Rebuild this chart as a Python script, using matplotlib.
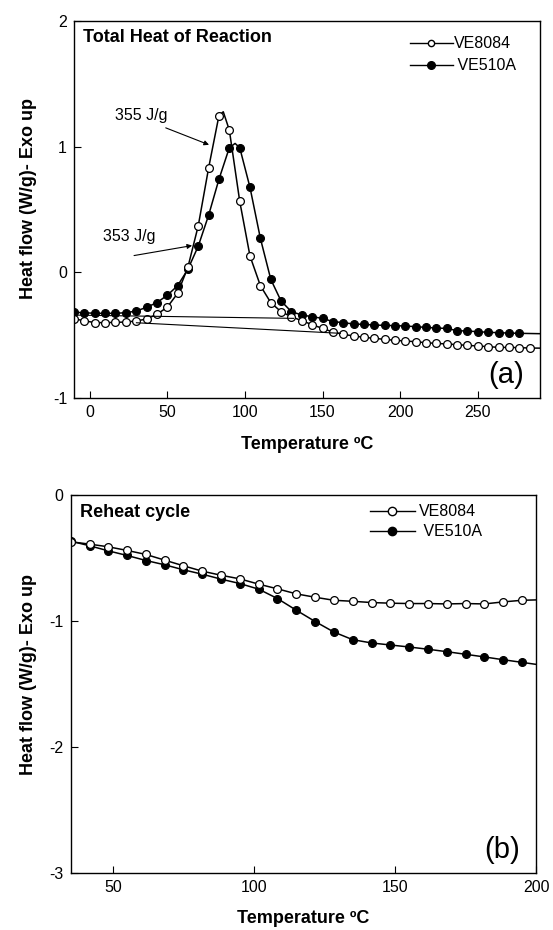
import matplotlib
matplotlib.use('Agg')
from matplotlib import pyplot as plt

plt.rcParams['font.family'] = ['Liberation Sans', 'DejaVu Sans']
plt.rcParams['axes.unicode_minus'] = False

# (a) total heat of reaction, marker points
temp_a = [-10, -3.3, 3.3, 10, 16.7, 23.3, 30, 36.7, 43.3, 50, 56.7, 63.3, 70,
          76.7, 83.3, 90, 96.7, 103.3, 110, 116.7, 123.3, 130, 136.7, 143.3,
          150, 156.7, 163.3, 170, 176.7, 183.3, 190, 196.7, 203.3, 210, 216.7,
          223.3, 230, 236.7, 243.3, 250, 256.7, 263.3, 270, 276.7, 283.3]
ve8084_a = [-0.37, -0.385, -0.40, -0.40, -0.398, -0.395, -0.387, -0.371, -0.334,
            -0.278, -0.167, 0.04, 0.371, 0.833, 1.246, 1.132, 0.565, 0.13,
            -0.106, -0.241, -0.313, -0.353, -0.385, -0.416, -0.446, -0.475,
            -0.493, -0.506, -0.517, -0.525, -0.533, -0.541, -0.546, -0.552,
            -0.56, -0.565, -0.57, -0.575, -0.581, -0.586, -0.591, -0.597,
            -0.597, -0.599, -0.602]
ve510a_a = [-0.318, -0.321, -0.326, -0.326, -0.326, -0.321, -0.308, -0.278,
            -0.241, -0.183, -0.106, 0.024, 0.209, 0.456, 0.74, 0.992, 0.992,
            0.676, 0.27, -0.056, -0.228, -0.313, -0.339, -0.353, -0.366,
            -0.392, -0.40, -0.411, -0.414, -0.419, -0.422, -0.424, -0.427,
            -0.432, -0.438, -0.443, -0.446, -0.464, -0.467, -0.472, -0.477,
            -0.48, -0.483, -0.485]
# peak tops of the traces (between markers)
peak_8084 = (86.1, 1.278)
peak_510a = (93.7, 1.026)
end_a = (290, -0.603, -0.488)
# integration baselines
base_510a = ([-10, 131.3], [-0.34, -0.366])
base_8084 = ([30.2, 161.5], [-0.401, -0.485])

# (b) reheat cycle
temp_b = [35, 41.7, 48.3, 55, 61.7, 68.3, 75, 81.7, 88.3, 95, 101.7, 108.3,
          115, 121.7, 128.3, 135, 141.7, 148.3, 155, 161.7, 168.3, 175, 181.7,
          188.3, 195]
ve8084_b = [-0.371, -0.39, -0.411, -0.44, -0.472, -0.517, -0.562, -0.605,
            -0.637, -0.666, -0.708, -0.745, -0.785, -0.812, -0.836, -0.844,
            -0.854, -0.859, -0.862, -0.862, -0.865, -0.862, -0.865, -0.849,
            -0.836]
ve510a_b = [-0.366, -0.403, -0.443, -0.48, -0.52, -0.554, -0.594, -0.629,
            -0.668, -0.703, -0.748, -0.822, -0.915, -1.005, -1.088, -1.149,
            -1.175, -1.191, -1.207, -1.225, -1.244, -1.265, -1.286, -1.308,
            -1.329]
end_b = (200, -0.833, -1.345)


def trace(x, y, peak, end):
    # line vertices: markers plus the peak top and the end at the axis edge
    pts = list(zip(x, y))
    if peak is not None:
        pts.append(peak)
    pts.append(end)
    pts.sort()
    return [p[0] for p in pts], [p[1] for p in pts]


def style_axes(ax):
    ax.tick_params(direction='in', length=5, width=0.8, labelsize=11.5, pad=5,
                   top=False, right=False)
    for s in ax.spines.values():
        s.set_linewidth(1.0)


def main():
    fig = plt.figure(figsize=(5.53, 9.3), dpi=100)
    ax1 = fig.add_axes([0.1338, 0.572, 0.8427, 0.4054])
    ax2 = fig.add_axes([0.1278, 0.0616, 0.8415, 0.4061])

    open_kw = dict(marker='o', mfc='white', mec='black', ms=5.6, mew=0.9,
                   ls='none')
    fill_kw = dict(marker='o', mfc='black', mec='black', ms=5.6, mew=0.9,
                   ls='none')

    # top: total heat of reaction
    lx, ly = trace(temp_a[:len(ve510a_a)], ve510a_a, peak_510a, (end_a[0], end_a[2]))
    ax1.plot(lx, ly, color='black', lw=1.1)
    ax1.plot(temp_a[:len(ve510a_a)], ve510a_a, **fill_kw)
    lx, ly = trace(temp_a, ve8084_a, peak_8084, (end_a[0], end_a[1]))
    ax1.plot(lx, ly, color='black', lw=1.1)
    ax1.plot(temp_a, ve8084_a, **open_kw)
    ax1.plot(*base_510a, color='black', lw=0.8)
    ax1.plot(*base_8084, color='black', lw=0.8)

    h1, = ax1.plot([], [], color='black', lw=1.0, marker='o', mfc='white',
                   mec='black', ms=4.5)
    h2, = ax1.plot([], [], color='black', lw=1.0, marker='o', mfc='black',
                   mec='black', ms=5.5)
    ax1.legend([h1, h2], ['VE8084', ' VE510A'], loc='upper left',
               bbox_to_anchor=(0.72, 0.96), frameon=False, fontsize=11.5,
               handlelength=2.7, handletextpad=0.05, labelspacing=0.45,
               borderpad=0, borderaxespad=0)

    ax1.annotate('', xy=(78.6, 1.007), xytext=(47.4, 1.158),
                 arrowprops=dict(arrowstyle='-|>', color='black', lw=0.8,
                                 mutation_scale=7))
    ax1.annotate('', xy=(67.8, 0.217), xytext=(26.9, 0.13),
                 arrowprops=dict(arrowstyle='-|>', color='black', lw=0.8,
                                 mutation_scale=7))
    ax1.text(16.1, 1.25, '355 J/g', fontsize=11.5, va='center', ha='left')
    ax1.text(8.6, 0.289, '353 J/g', fontsize=11.5, va='center', ha='left')
    ax1.text(0.02, 0.955, 'Total Heat of Reaction', transform=ax1.transAxes,
             fontsize=13, fontweight='bold', va='center', ha='left')
    ax1.text(0.965, 0.06, '(a)', transform=ax1.transAxes, fontsize=21,
             va='center', ha='right')

    ax1.set_xlim(-10, 290)
    ax1.set_ylim(-1, 2)
    ax1.set_xticks([0, 50, 100, 150, 200, 250])
    ax1.set_yticks([-1, 0, 1, 2])
    style_axes(ax1)
    ax1.set_xlabel('Temperature ºC', fontsize=13, fontweight='bold')
    ax1.set_ylabel('Heat flow (W/g)- Exo up', fontsize=13, fontweight='bold')
    ax1.xaxis.set_label_coords(0.5, -0.10)
    ax1.yaxis.set_label_coords(-0.08, 0.528)

    # bottom: reheat cycle
    lx, ly = trace(temp_b, ve510a_b, None, (end_b[0], end_b[2]))
    ax2.plot(lx, ly, color='black', lw=1.1)
    ax2.plot(temp_b, ve510a_b, **fill_kw)
    lx, ly = trace(temp_b, ve8084_b, None, (end_b[0], end_b[1]))
    ax2.plot(lx, ly, color='black', lw=1.1)
    ax2.plot(temp_b, ve8084_b, **open_kw)

    h1, = ax2.plot([], [], color='black', lw=1.0, marker='o', mfc='white',
                   mec='black', ms=6)
    h2, = ax2.plot([], [], color='black', lw=1.0, marker='o', mfc='black',
                   mec='black', ms=6)
    ax2.legend([h1, h2], ['VE8084', ' VE510A'], loc='upper left',
               bbox_to_anchor=(0.643, 0.975), frameon=False, fontsize=11.5,
               handlelength=2.8, handletextpad=0.25, labelspacing=0.3,
               borderpad=0, borderaxespad=0)

    ax2.text(0.02, 0.955, 'Reheat cycle', transform=ax2.transAxes,
             fontsize=13, fontweight='bold', va='center', ha='left')
    ax2.text(0.965, 0.06, '(b)', transform=ax2.transAxes, fontsize=21,
             va='center', ha='right')

    ax2.set_xlim(35, 200)
    ax2.set_ylim(-3, 0)
    ax2.set_xticks([50, 100, 150, 200])
    ax2.set_yticks([-3, -2, -1, 0])
    style_axes(ax2)
    ax2.set_xlabel('Temperature ºC', fontsize=13, fontweight='bold')
    ax2.set_ylabel('Heat flow (W/g)- Exo up', fontsize=13, fontweight='bold')
    ax2.xaxis.set_label_coords(0.5, -0.10)
    ax2.yaxis.set_label_coords(-0.072, 0.524)

    fig.savefig('out.png', dpi=100)


if __name__ == '__main__':
    main()
